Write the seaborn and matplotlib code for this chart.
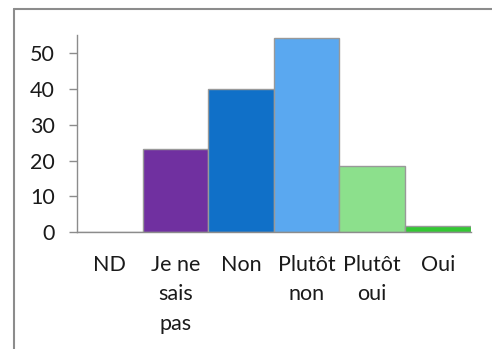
import matplotlib
matplotlib.use('Agg')
import matplotlib.pyplot as plt
import seaborn as sns
from matplotlib.lines import Line2D

# Données
categories = ['ND', 'Je ne\nsais\npas', 'Non', 'Plutôt\nnon', 'Plutôt\noui', 'Oui']
valeurs = [0, 23.2, 39.9, 54.1, 18.5, 1.8]
couleurs = ['#ffffff', '#7030a0', '#1070c8', '#5aa8f0', '#8ce08c', '#33c833']
y_ticks = [0, 10, 20, 30, 40, 50]

sns.set_style('white')
plt.rcParams['font.family'] = ['Lato', 'DejaVu Sans']

fig = plt.figure(figsize=(4.92, 3.49), dpi=100)
ax = fig.add_axes([0.1565, 0.3343, 0.80, 0.5654])

sns.barplot(x=categories, y=valeurs, hue=categories, palette=couleurs,
            saturation=1, width=1, legend=False, edgecolor='#999999',
            linewidth=1.0, ax=ax)

ax.set_xlim(-0.5, 5.5)
ax.set_ylim(0, 55)
ax.set_yticks(y_ticks)
ax.set_xlabel('')
ax.set_ylabel('')

for s in ['top', 'right']:
    ax.spines[s].set_visible(False)
for s in ['left', 'bottom']:
    ax.spines[s].set_color('#8c8c8c')
    ax.spines[s].set_linewidth(1.0)

ax.tick_params(axis='y', length=5.8, width=1.0, color='#8c8c8c', direction='out',
               pad=10, labelsize=15.5, labelcolor='#1a1a1a', left=True)
ax.tick_params(axis='x', length=0, pad=16, labelsize=15.5, labelcolor='#1a1a1a')
for lab in ax.get_xticklabels():
    lab.set_linespacing(1.6)
    lab.set_verticalalignment('top')

# Cadre du graphique (bords gauche et haut visibles)
x0 = 14 / 492
y0 = 1 - 9 / 349
fig.add_artist(Line2D([x0, x0], [0, y0], transform=fig.transFigure,
                      color='#8c8c8c', linewidth=1.5))
fig.add_artist(Line2D([x0, 1], [y0, y0], transform=fig.transFigure,
                      color='#8c8c8c', linewidth=1.5))

fig.savefig('out.png', dpi=100)
